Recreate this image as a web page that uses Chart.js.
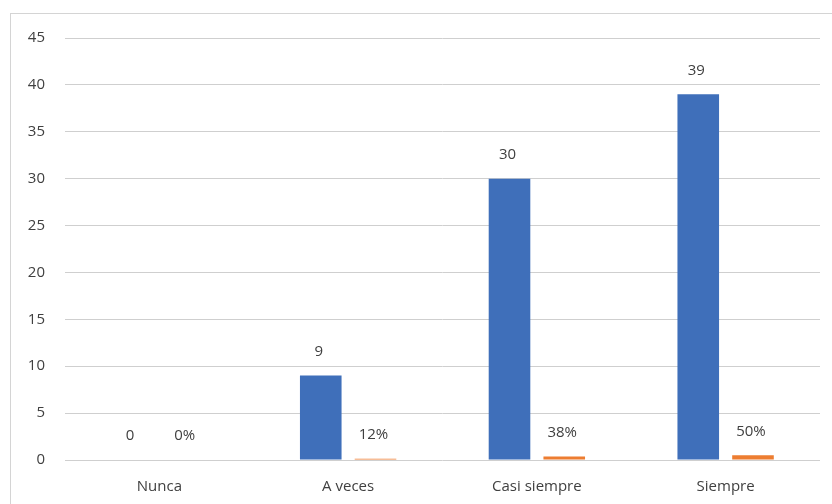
<!DOCTYPE html>
<html>
<head>
<meta charset="utf-8">
<script src="https://cdn.jsdelivr.net/npm/chart.js@4"></script>
<style>
  html, body { margin: 0; padding: 0; background: #fff; }
  #wrap { position: relative; width: 832px; height: 504px; }
  #frame { position: absolute; left: 10px; top: 13px; right: -2px; bottom: -2px; border-left: 1px solid #d4d4d4; border-top: 1px solid #d4d4d4; }
  canvas { position: absolute; left: 0; top: 0; }
</style>
</head>
<body>
<div id="wrap">
  <div id="frame"></div>
  <canvas id="chart" width="832" height="504"></canvas>
</div>
<script>
const categories = ['Nunca', 'A veces', 'Casi siempre', 'Siempre'];
const counts = [0, 9, 30, 39];
const shares = [0, 0.12, 0.38, 0.50];
const yTicks = [0, 5, 10, 15, 20, 25, 30, 35, 40, 45];

const labelColor = '#404040';
const fontFamily = "'Open Sans', 'Noto Sans', sans-serif";

// value labels above each bar, like Excel data labels
const barLabels = {
    id: 'barLabels',
    afterDatasetsDraw(chart) {
        const ctx = chart.ctx;
        ctx.save();
        ctx.fillStyle = labelColor;
        ctx.font = '15px ' + fontFamily;
        ctx.textAlign = 'center';
        ctx.textBaseline = 'middle';
        chart.data.datasets.forEach((ds, i) => {
            chart.getDatasetMeta(i).data.forEach((bar, j) => {
                const v = ds.data[j];
                const text = i === 1 ? Math.round(v * 100) + '%' : String(v);
                ctx.fillText(text, bar.x - 2, bar.y - 24);
            });
        });
        ctx.restore();
    }
};

new Chart(document.querySelector('#chart').getContext('2d'), {
    type: 'bar',
    data: {
        labels: categories,
        datasets: [
            {
                label: 'Frecuencia',
                data: counts,
                backgroundColor: '#3F6FBA',
                categoryPercentage: 0.58,
                barPercentage: 0.76
            },
            {
                label: 'Porcentaje',
                data: shares,
                backgroundColor: '#ED7D31',
                categoryPercentage: 0.58,
                barPercentage: 0.76
            }
        ]
    },
    options: {
        responsive: false,
        animation: false,
        layout: { padding: { left: 10, top: 38, right: 12, bottom: 0 } },
        plugins: {
            legend: { display: false },
            tooltip: { enabled: false }
        },
        scales: {
            x: {
                grid: { display: false, drawTicks: false },
                border: { display: false },
                ticks: {
                    color: '#404040',
                    padding: 18,
                    font: { family: fontFamily, size: 15 }
                },
                afterFit: scale => { scale.height = 44; }
            },
            y: {
                min: 0,
                max: 45,
                afterBuildTicks: scale => { scale.ticks = yTicks.map(v => ({ value: v })); },
                grid: { color: '#cfcfcf', drawTicks: false },
                border: { display: false },
                ticks: {
                    color: '#404040',
                    padding: 20,
                    font: { family: fontFamily, size: 15 }
                },
                afterFit: scale => { scale.width = 55; }
            }
        }
    },
    plugins: [barLabels]
});
</script>
</body>
</html>
